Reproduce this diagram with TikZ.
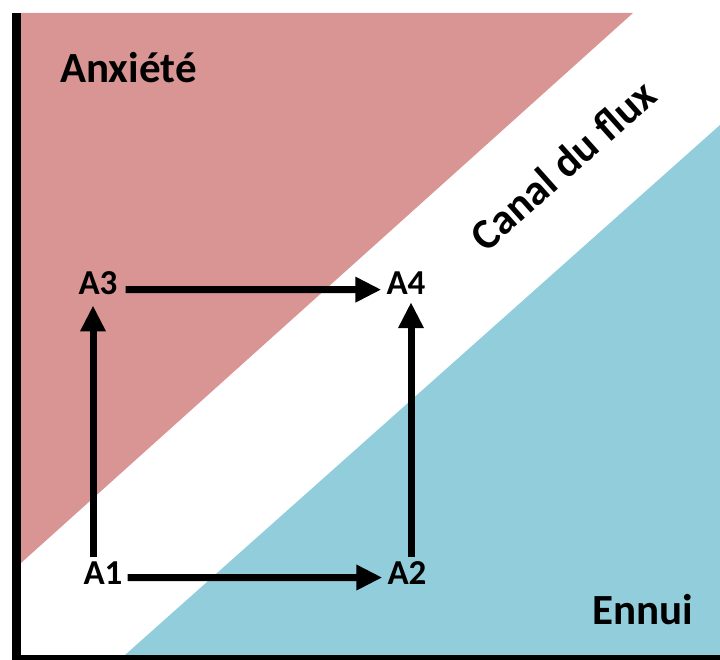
\documentclass[tikz,border=0pt]{standalone}
\usepackage{fontspec}
\setmainfont{Carlito}
\usetikzlibrary{arrows.meta}
\definecolor{anxred}{HTML}{D99594}
\definecolor{ennblue}{HTML}{92CDDC}
\begin{document}
\begin{tikzpicture}[x=1pt,y=1pt,
  big/.style={font=\fontsize{43}{50}\selectfont\bfseries, inner sep=0pt},
  lab/.style={font=\fontsize{35}{40}\selectfont\bfseries, inner sep=0pt, anchor=base},
  arr/.style={line width=7pt, -{Triangle[length=26pt,width=24pt]}}]
\useasboundingbox (0,0) rectangle (720,660);
% regions
\fill[anxred] (21,647) -- (633,647) -- (21,97) -- cycle;
\fill[ennblue] (125,5) -- (720,535) -- (720,5) -- cycle;
% axes
\fill[black] (12,0) rectangle (21,647);
\fill[black] (12,0) rectangle (720,5);
% labels
\node[big, anchor=base west] (anx) at (60,577) {Anxiété};
\node[big, anchor=base west] (enn) at (592,35) {Ennui};
\node[big, rotate=41.7] (canal) at (563,495) {Canal du flux};
\node[lab] (A1) at (103,75) {A1};
\node[lab] (A2) at (407,75) {A2};
\node[lab] (A3) at (98,365) {A3};
\node[lab] (A4) at (406,365) {A4};
% arrows
\draw[arr] ([xshift=5pt,yshift=-4pt]A1.east) -- ([xshift=-5pt,yshift=-4pt]A2.west);
\draw[arr] ([xshift=8pt,yshift=-6pt]A3.east) -- ([xshift=-5pt,yshift=-6pt]A4.west);
\draw[arr] ([xshift=-10pt,yshift=5pt]A1.north) -- ([xshift=-5pt,yshift=-10pt]A3.south);
\draw[arr] ([xshift=4pt,yshift=5pt]A2.north) -- ([xshift=5pt,yshift=-7pt]A4.south);
\end{tikzpicture}
\end{document}
